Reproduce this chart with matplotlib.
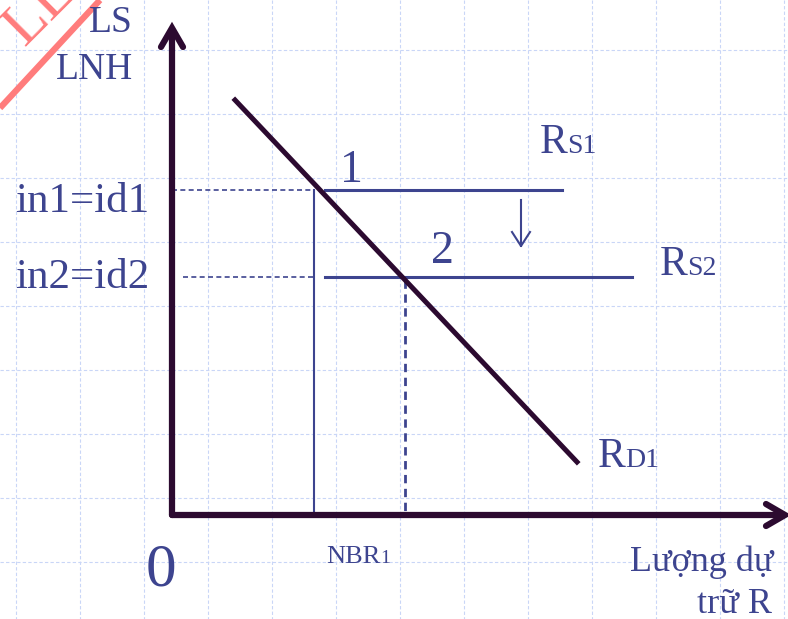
import numpy as np
import matplotlib
matplotlib.use("Agg")
import matplotlib.pyplot as plt

# schematic in pixel-like units (origin top-left)
origin = (172, 515)
x_axis_end = 785
y_axis_end = 28
rd_x = [235, 577]
rd_y = [100, 462]
rate_levels = [190, 277]          # in1=id1, in2=id2
rs_start = [325, 325]
rs_end = [562, 632]
q_levels = [314, 405]             # NBR1, equilibrium 2
dash_start = [172, 183]
shift_arrow_x = 521
shift_arrow_y = [200, 246]

rate_labels = ["in1=id1", "in2=id2"]
point_labels = ["1", "2"]

TXT = "#3d448f"
AX = "#2c0a30"
GRID = "#c9d6f7"

plt.rcParams['font.family'] = ['Liberation Serif', 'DejaVu Serif']

fig = plt.figure(figsize=(7.88, 6.19), dpi=100)
ax = fig.add_axes([0, 0, 1, 1])
ax.set_xlim(0, 788)
ax.set_ylim(619, 0)
ax.axis("off")

# background grid
for gx in np.arange(16, 788, 64):
    ax.plot([gx, gx], [0, 619], color=GRID, lw=0.8, ls=(0, (3, 2)), zorder=0)
for gy in np.arange(50, 619, 64):
    ax.plot([0, 788], [gy, gy], color=GRID, lw=0.8, ls=(0, (3, 2)), zorder=0)

# watermark
ax.plot([0, 100], [108, 0], color="#ff7c7c", lw=4.5, solid_capstyle="butt", zorder=1)
ax.text(40, 10, "LE", color="#ff7c7c", fontsize=44, rotation=45, ha="center",
        va="center", zorder=1)

# axes with open arrowheads
ax.plot([origin[0], origin[0]], [origin[1], y_axis_end + 2], color=AX, lw=4.5,
        solid_capstyle="round", zorder=3)
ax.plot([origin[0], x_axis_end - 2], [origin[1], origin[1]], color=AX, lw=4.5,
        solid_capstyle="round", zorder=3)
ax.plot([origin[0] - 11, origin[0], origin[0] + 11],
        [y_axis_end + 19, y_axis_end, y_axis_end + 19], color=AX, lw=4.5,
        solid_capstyle="round", solid_joinstyle="miter", zorder=3)
ax.plot([x_axis_end - 19, x_axis_end, x_axis_end - 19],
        [origin[1] - 11, origin[1], origin[1] + 11], color=AX, lw=4.5,
        solid_capstyle="round", solid_joinstyle="miter", zorder=3)

# demand line
ax.plot(rd_x, rd_y, color=AX, lw=3.6, zorder=4)

# supply lines
for lvl, s, e in zip(rate_levels, rs_start, rs_end):
    ax.plot([s, e], [lvl, lvl], color=TXT, lw=2.2, zorder=3)

# guide lines
ax.plot([dash_start[0], q_levels[0]], [rate_levels[0]] * 2, color=TXT, lw=1.2,
        ls=(0, (3, 2)), zorder=2)
ax.plot([dash_start[1], q_levels[0]], [rate_levels[1]] * 2, color=TXT, lw=1.2,
        ls=(0, (3, 2)), zorder=2)
ax.plot([q_levels[0]] * 2, [rate_levels[0], origin[1]], color=TXT, lw=1.5, zorder=2)
ax.plot([q_levels[1]] * 2, [rate_levels[1] + 3, origin[1]], color=TXT, lw=2,
        ls=(0, (3, 2)), zorder=2)

# shift arrow
ax.plot([shift_arrow_x] * 2, shift_arrow_y, color=TXT, lw=1.5, zorder=3)
ax.plot([shift_arrow_x - 9, shift_arrow_x, shift_arrow_x + 9],
        [shift_arrow_y[1] - 14, shift_arrow_y[1], shift_arrow_y[1] - 14],
        color=TXT, lw=1.5, zorder=3)

# labels
ax.text(133, 32, "LS", color=TXT, fontsize=27, ha="right", va="baseline")
ax.text(133, 79, "LNH", color=TXT, fontsize=27, ha="right", va="baseline")
for lab, y in zip(rate_labels, [212, 288]):
    ax.text(149, y, lab, color=TXT, fontsize=31, ha="right", va="baseline")
ax.text(340, 182, point_labels[0], color=TXT, fontsize=33, va="baseline")
ax.text(431, 263, point_labels[1], color=TXT, fontsize=33, va="baseline")

def sub_label(x, y, main, sub):
    t = ax.text(x, y, main, color=TXT, fontsize=30, va="baseline")
    fig.canvas.draw()
    bb = t.get_window_extent()
    inv = ax.transData.inverted()
    x2 = inv.transform((bb.x1, bb.y0))[0]
    ax.text(x2 - 1, y, sub, color=TXT, fontsize=20, va="baseline")

sub_label(540, 153, "R", "S1")
sub_label(660, 275, "R", "S2")
sub_label(598, 467, "R", "D1")

ax.text(146, 585, "0", color=TXT, fontsize=44, va="baseline")
nb = ax.text(326, 563, "NBR", color=TXT, fontsize=19, va="baseline")
fig.canvas.draw()
bb = nb.get_window_extent()
ax.text(ax.transData.inverted().transform((bb.x1, bb.y0))[0], 563, "1",
        color=TXT, fontsize=14, va="baseline")
ax.text(774, 571, "Lượng dự", color=TXT, fontsize=26, ha="right", va="baseline")
ax.text(772, 613, "trữ R", color=TXT, fontsize=26, ha="right", va="baseline")

fig.savefig("out.png", dpi=100)
